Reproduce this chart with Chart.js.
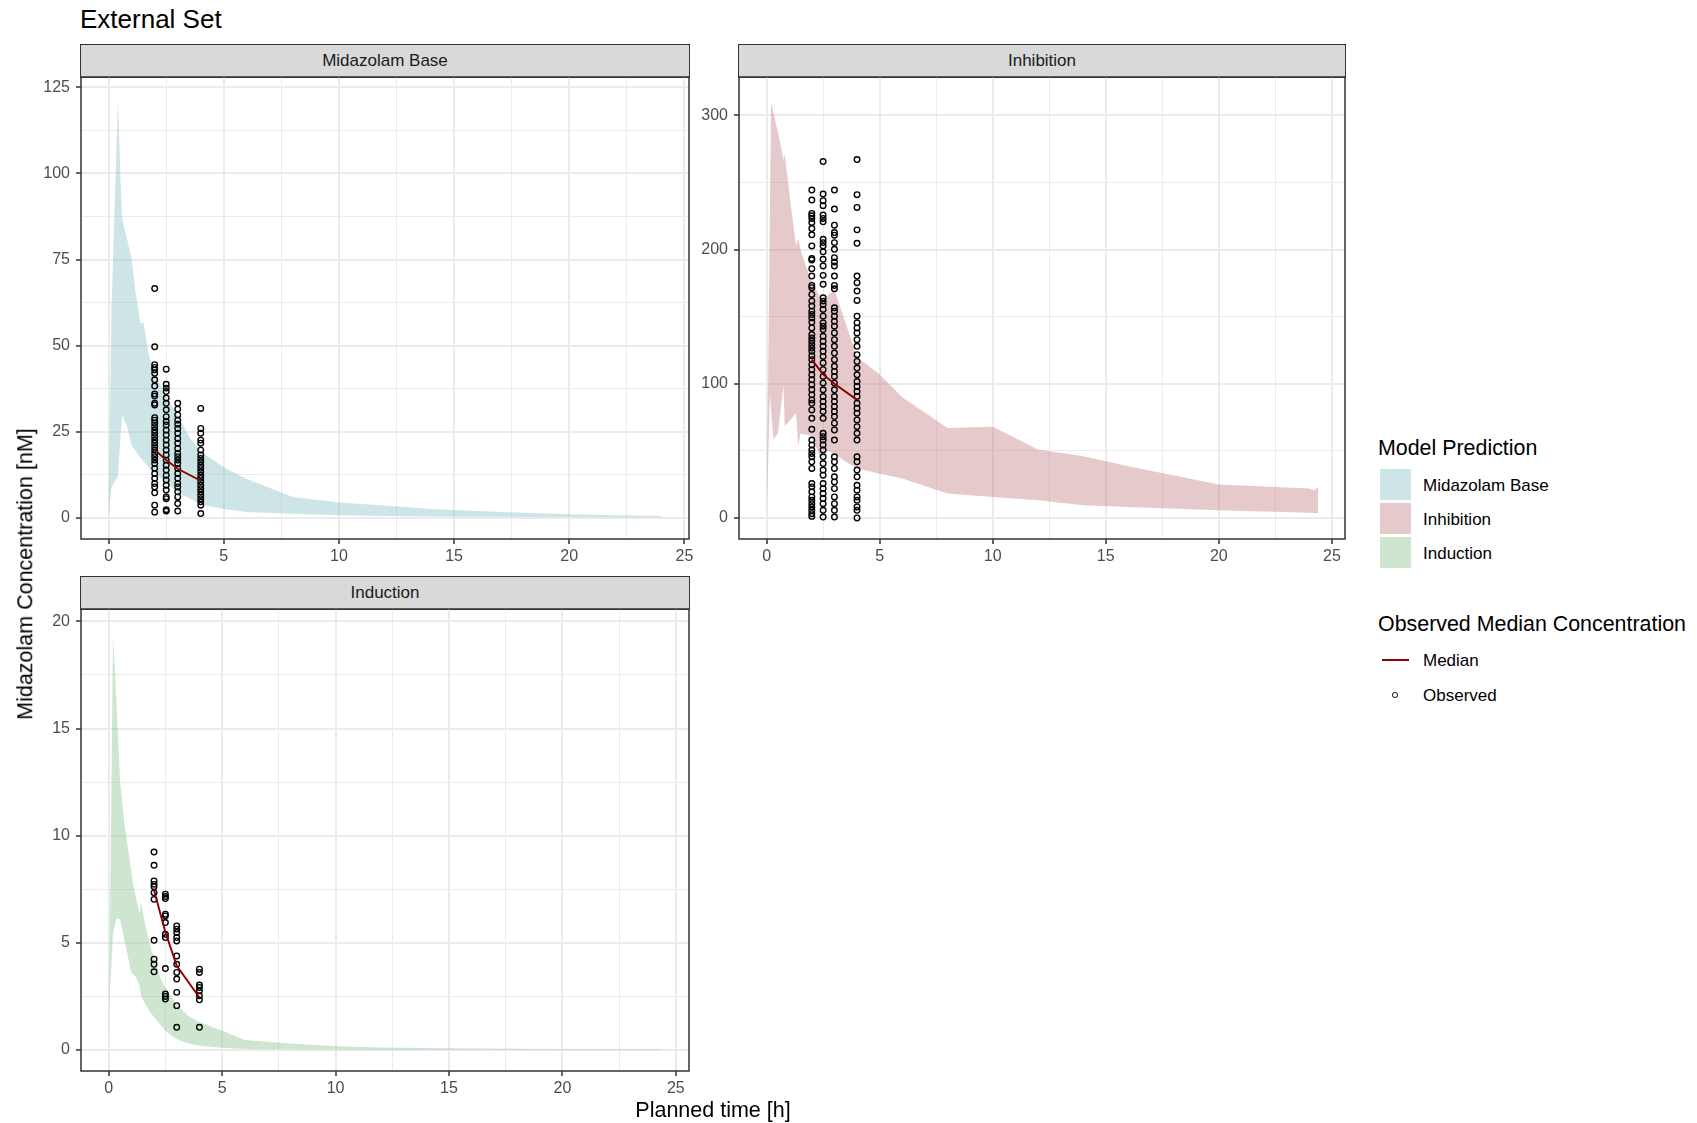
<!DOCTYPE html>
<html>
<head>
<meta charset="utf-8">
<title>External Set</title>
<script src="https://cdn.jsdelivr.net/npm/chart.js@4.4.1/dist/chart.umd.min.js"></script>
<style>
  body { margin: 0; background: #fff; }
  #page { position: relative; width: 1697px; height: 1123px; overflow: hidden;
          font-family: 'Liberation Sans', Arial, Helvetica, sans-serif; }
  canvas { position: absolute; }
  .strip { position: absolute; box-sizing: border-box; background: #D9D9D9; border: 1.5px solid #333;
           color: #1A1A1A; font-size: 17px; display: flex; align-items: center; justify-content: center; }
  .txt { position: absolute; white-space: nowrap; line-height: 1; color: #000; }
  .key { position: absolute; }
</style>
</head>
<body>
<div id="page">
  <div class="txt" style="left:80px; top:18.7px; transform:translateY(-50%); font-size:26px;">External Set</div>

  <div class="strip" style="left:80.25px; top:43.5px; width:609.5px; height:34.25px;">Midazolam Base</div>
  <div class="strip" style="left:738.25px; top:43.5px; width:607.5px; height:34.25px;">Inhibition</div>
  <div class="strip" style="left:80.25px; top:576px; width:609.5px; height:34.25px;">Induction</div>

  <canvas id="c1"></canvas>
  <canvas id="c2"></canvas>
  <canvas id="c3"></canvas>

  <div class="txt" style="left:26px; top:574px; transform:translate(-50%,-50%) rotate(-90deg); font-size:21.5px;">Midazolam Concentration [nM]</div>
  <div class="txt" style="left:713px; top:1111px; transform:translate(-50%,-50%); font-size:21.5px;">Planned time [h]</div>

  <div class="txt" style="left:1378px; top:448.5px; transform:translateY(-50%); font-size:21.4px;">Model Prediction</div>
  <div class="key" id="k1" style="left:1380px; top:469px; width:31px; height:31px;"></div>
  <div class="key" id="k2" style="left:1380px; top:503px; width:31px; height:31px;"></div>
  <div class="key" id="k3" style="left:1380px; top:537px; width:31px; height:31px;"></div>
  <div class="txt" style="left:1423px; top:484.5px; transform:translateY(-50%); font-size:17px;">Midazolam Base</div>
  <div class="txt" style="left:1423px; top:518.5px; transform:translateY(-50%); font-size:17px;">Inhibition</div>
  <div class="txt" style="left:1423px; top:552.5px; transform:translateY(-50%); font-size:17px;">Induction</div>

  <div class="txt" style="left:1378px; top:625px; transform:translateY(-50%); font-size:21.4px;">Observed Median Concentration</div>
  <div class="key" style="left:1382px; top:659px; width:27px; height:2px; background:#8B0000;"></div>
  <div class="key" style="left:1392.2px; top:692.2px; width:3.6px; height:3.6px; border:1.3px solid #000; border-radius:50%;"></div>
  <div class="txt" style="left:1423px; top:660px; transform:translateY(-50%); font-size:17px;">Median</div>
  <div class="txt" style="left:1423px; top:695px; transform:translateY(-50%); font-size:17px;">Observed</div>
</div>

<script>
const FONT = "'Liberation Sans', Arial, Helvetica, sans-serif";

// planned sampling times of the observations
const obsTimes = [2, 2.5, 3, 4];

// axis breaks
const xMajor = [0, 5, 10, 15, 20, 25];
const xMinor = [2.5, 7.5, 12.5, 17.5, 22.5];
const baseYMajor = [0, 25, 50, 75, 100, 125];
const baseYMinor = [12.5, 37.5, 62.5, 87.5, 112.5];
const inhYMajor = [0, 100, 200, 300];
const inhYMinor = [50, 150, 250];
const indYMajor = [0, 5, 10, 15, 20];
const indYMinor = [2.5, 7.5, 12.5, 17.5];

// Midazolam Base - prediction band
const baseTime  = [0, 0.12, 0.4, 0.58, 0.8, 1, 1.16, 1.38, 1.52, 1.75, 2, 2.25, 2.5, 3, 3.5, 4, 5, 6, 8, 10, 12, 14, 16, 18, 20, 22, 24];
const baseUpper = [0, 60, 121, 87, 81, 75, 66, 56.6, 56.7, 47, 42.5, 38.5, 35, 30, 23.5, 19.3, 14.7, 11.3, 6.1, 4.5, 3.6, 2.6, 2.0, 1.5, 1.1, 0.8, 0.6];
const baseLower = [0, 9, 12, 30, 26.6, 21, 19.5, 17.5, 16.5, 14.5, 13, 11.5, 10.2, 7.5, 5.7, 4.0, 2.6, 1.75, 1.26, 0.8, 0.55, 0.4, 0.35, 0.3, 0.25, 0.2, 0.2];
// Midazolam Base - observations
const baseObs2  = [66.6, 49.7, 44.5, 43.7, 43.0, 42.0, 40.1, 38.3, 36.0, 35.4, 33.3, 32.8, 29.1, 28.4, 27.5, 26.5, 25.5, 24.6, 23.6, 22.6, 21.7, 20.7, 19.7, 18.7, 17.8, 16.8, 15.8, 14.4, 12.9, 11.5, 10.0, 9.0, 7.3, 3.7, 1.7];
const baseObs25 = [43.2, 38.8, 37.7, 36.7, 34.8, 33.3, 31.4, 29.4, 28.0, 27.0, 25.5, 24.1, 22.6, 21.2, 19.7, 18.3, 16.8, 15.3, 13.9, 12.4, 11.0, 9.5, 8.1, 6.1, 5.6, 2.4, 2.0];
const baseObs3  = [33.3, 31.6, 29.9, 28.4, 27.2, 26.0, 24.6, 23.1, 21.7, 20.2, 18.7, 17.8, 16.8, 15.8, 14.4, 12.9, 11.5, 10.0, 9.0, 7.6, 6.1, 4.2, 2.0];
const baseObs4  = [31.8, 26.0, 24.6, 22.6, 21.7, 19.7, 18.3, 17.3, 16.3, 15.3, 14.4, 13.4, 12.4, 11.5, 10.5, 9.5, 8.5, 7.6, 6.6, 5.6, 4.7, 3.7, 1.3];
const baseMedian = [19.8, 16.8, 14.3, 10.8];

// Inhibition - prediction band
const inhTime  = [0, 0.15, 0.2, 0.3, 0.5, 0.75, 0.8, 1.0, 1.2, 1.3, 1.4, 1.5, 1.75, 2, 2.4, 2.65, 3, 3.5, 4, 5, 6, 8, 10, 12, 14, 16, 20, 24, 24.2, 24.4];
const inhUpper = [0, 232, 310, 302, 288, 267, 271, 243, 216, 203, 208, 200, 187, 177, 163, 165, 170, 145, 120, 107, 90, 67, 68, 51, 46, 38.5, 25, 22, 20.5, 23];
const inhLower = [0, 93, 80, 58.6, 63, 99, 68.5, 72, 76, 78, 54, 63, 62, 61, 44, 50, 48, 42, 37, 33, 29.4, 18.2, 15.7, 13.2, 9.5, 8.2, 5.7, 4.0, 3.8, 3.7];
// Inhibition - observations
const inhObs2  = [244.4, 236.9, 226.9, 225.2, 223.2, 220.2, 215.7, 211, 202.7, 193.3, 192.3, 185.8, 180.3, 173.3, 171.6, 166.6, 161.6, 157.9, 154.1, 151.6, 149.1, 145.9, 141.6, 136.7, 134.2, 131.7, 129.2, 126.7, 124.2, 120.9, 118, 114.2, 110.5, 106.7, 103, 99.3, 95.5, 91.8, 88, 85.5, 80.5, 74.3, 66.1, 58.1, 54.4, 50.6, 48.1, 45.6, 41.9, 36.9, 25.7, 23.2, 19.5, 15.7, 13.2, 10.7, 8.2, 5.7, 3.2, 1.2];
const inhObs25 = [265.6, 241.4, 236.4, 232.7, 225.7, 223.2, 220.7, 207.7, 205.2, 202.7, 198.3, 192.8, 187.8, 180.8, 174.1, 164.1, 161.6, 159.1, 155.4, 150.4, 145.4, 142.9, 140.4, 135.4, 131.7, 127.9, 124.2, 120.4, 115.5, 110.5, 105.5, 100.5, 95.5, 90.5, 86.8, 83, 79.3, 74.3, 63.1, 60.6, 58.1, 54.4, 50.6, 45.6, 40.6, 35.7, 31.9, 25.7, 21.9, 18.2, 14.5, 10.7, 5.7, 0.7];
const inhObs3  = [244.4, 230.2, 218.2, 212.7, 210.7, 205.2, 200.2, 194, 190.8, 187.8, 180.3, 173.3, 170.8, 156.6, 154.1, 150.4, 146.6, 142.9, 137.9, 132.9, 127.9, 122.9, 118, 113, 109.2, 105.5, 100.5, 95.5, 90.5, 86.8, 83, 79.3, 75.6, 70.6, 65.6, 58.1, 45.6, 41.9, 36.9, 30.7, 26.9, 21.9, 15.7, 10.7, 5.7, 0.7];
const inhObs4  = [267.1, 240.9, 231.4, 214.7, 204.7, 180.3, 175.3, 169.1, 162.1, 150.4, 145.4, 141.6, 137.9, 132.9, 127.9, 121.7, 116.7, 111.7, 106.7, 101.7, 98, 94.3, 90.5, 85.5, 81.8, 78.1, 73.1, 68.1, 63.1, 58.1, 45.6, 41.9, 35.7, 30.7, 24.4, 20.7, 15.7, 13.2, 8.2, 5.7, 0];
const inhMedian = [118, 107, 100, 88];

// Induction - prediction band
const indTime  = [0, 0.04, 0.19, 0.34, 0.5, 0.7, 0.8, 1.0, 1.1, 1.2, 1.36, 1.43, 1.58, 1.87, 2.3, 2.5, 3, 3.5, 4, 5, 6, 8, 10, 12, 14, 16, 20, 24.4];
const indUpper = [0, 4, 19.4, 16.3, 12.6, 10.5, 9.8, 8.3, 7.6, 7.1, 6.4, 6.9, 6.0, 4.7, 3.3, 2.9, 2.1, 1.6, 1.3, 0.9, 0.47, 0.3, 0.17, 0.12, 0.09, 0.07, 0.05, 0.03];
const indLower = [0, 2.3, 5.45, 6.15, 6.1, 5.1, 4.6, 3.6, 3.5, 3.4, 3.0, 2.5, 2.2, 1.7, 1.16, 0.9, 0.5, 0.3, 0.2, 0.1, 0.05, 0.03, 0.02, 0.01, 0.01, 0.01, 0.01, 0];
// Induction - observations
const indObs2  = [9.24, 8.62, 7.89, 7.73, 7.62, 7.34, 7.03, 5.12, 4.24, 4.0, 3.65];
const indObs25 = [7.27, 7.16, 7.07, 6.34, 6.26, 5.95, 5.4, 5.25, 3.8, 2.61, 2.5, 2.38];
const indObs3  = [5.79, 5.64, 5.48, 5.25, 5.09, 4.39, 4.0, 3.62, 3.31, 2.69, 2.07, 1.06];
const indObs4  = [3.77, 3.62, 3.03, 2.92, 2.76, 2.53, 2.34, 1.06];
const indMedian = [7.45, 5.5, 3.93, 2.45];

// ribbon colours (alpha over white)
const baseFill = 'rgba(130,190,195,0.4)';
const inhFill  = 'rgba(192,122,125,0.4)';
const indFill  = 'rgba(132,192,135,0.4)';

document.getElementById('k1').style.background = baseFill;
document.getElementById('k2').style.background = inhFill;
document.getElementById('k3').style.background = indFill;

const YW = 60, XH = 32, PAD = 4;

function xy(xs, ys) {
  return xs.map((x, i) => ({ x: x, y: ys[i] }));
}
function obsPts(cols) {
  return cols.flatMap((col, i) => col.map(y => ({ x: obsTimes[i], y: y })));
}

function axisOpts(pos, min, max, major, minor) {
  const all = major.concat(minor).sort((a, b) => a - b);
  const isMaj = v => major.includes(v);
  return {
    type: 'linear', position: pos, min: min, max: max,
    afterBuildTicks: ax => { ax.ticks = all.map(v => ({ value: v })); },
    afterFit: ax => {
      if (pos === 'left') ax.width = YW; else ax.height = XH;
      ax.paddingLeft = ax.paddingRight = ax.paddingTop = ax.paddingBottom = 0;
    },
    ticks: {
      autoSkip: false, maxRotation: 0, minRotation: 0,
      color: '#4D4D4D', font: { family: FONT, size: 16 },
      padding: pos === 'left' ? 6 : 3,
      callback: v => isMaj(v) ? String(v) : ''
    },
    grid: {
      color: '#EBEBEB',
      lineWidth: c => (c.tick && isMaj(c.tick.value)) ? 2 : 1,
      drawTicks: true, tickLength: 5, tickWidth: 1.5,
      tickColor: c => (c.tick && isMaj(c.tick.value)) ? '#333333' : 'rgba(0,0,0,0)'
    },
    border: { display: false }
  };
}

const panelBorder = {
  id: 'panelBorder',
  afterDraw(chart) {
    const a = chart.chartArea, ctx = chart.ctx;
    ctx.save();
    ctx.strokeStyle = '#333333';
    ctx.lineWidth = 1.5;
    ctx.strokeRect(a.left, a.top, a.right - a.left, a.bottom - a.top);
    ctx.restore();
  }
};

function makePanel(id, area, xr, yr, yMajor, yMinor, time, upper, lower, obs, median, fill) {
  const c = document.getElementById(id);
  const w = (area.right - area.left) + YW + 2 * PAD;
  const h = (area.bottom - area.top) + XH + 2 * PAD;
  c.width = w; c.height = h;
  c.style.width = w + 'px'; c.style.height = h + 'px';
  c.style.left = (area.left - YW - PAD) + 'px';
  c.style.top = (area.top - PAD) + 'px';

  new Chart(c, {
    type: 'line',
    data: {
      datasets: [
        { label: 'Median', data: xy(obsTimes, median), borderColor: '#8B0000', borderWidth: 1.9,
          pointRadius: 0, fill: false },
        { label: 'Observed', data: obsPts(obs), showLine: false, pointStyle: 'circle',
          pointRadius: 2.8, pointBorderWidth: 1.35, borderColor: '#000000',
          pointBorderColor: '#000000', pointBackgroundColor: 'rgba(0,0,0,0)', fill: false },
        { label: 'upper', data: xy(time, upper), borderColor: 'rgba(0,0,0,0)', borderWidth: 0,
          pointRadius: 0, backgroundColor: fill, fill: '+1' },
        { label: 'lower', data: xy(time, lower), borderColor: 'rgba(0,0,0,0)', borderWidth: 0,
          pointRadius: 0, fill: false }
      ]
    },
    options: {
      responsive: false, animation: false, events: [],
      layout: { padding: PAD, autoPadding: false },
      plugins: { legend: { display: false }, tooltip: { enabled: false } },
      scales: {
        x: axisOpts('bottom', xr[0], xr[1], xMajor, xMinor),
        y: axisOpts('left', yr[0], yr[1], yMajor, yMinor)
      }
    },
    plugins: [panelBorder]
  });
}

makePanel('c1', { left: 81, top: 77, right: 689, bottom: 539 }, [-1.2, 25.2], [-6.1, 128.0],
  baseYMajor, baseYMinor, baseTime, baseUpper, baseLower,
  [baseObs2, baseObs25, baseObs3, baseObs4], baseMedian, baseFill);

makePanel('c2', { left: 739, top: 77, right: 1345, bottom: 539 }, [-1.22, 25.58], [-15.65, 328.6],
  inhYMajor, inhYMinor, inhTime, inhUpper, inhLower,
  [inhObs2, inhObs25, inhObs3, inhObs4], inhMedian, inhFill);

makePanel('c3', { left: 81, top: 609, right: 689, bottom: 1071 }, [-1.22, 25.58], [-0.98, 20.58],
  indYMajor, indYMinor, indTime, indUpper, indLower,
  [indObs2, indObs25, indObs3, indObs4], indMedian, indFill);
</script>
</body>
</html>
